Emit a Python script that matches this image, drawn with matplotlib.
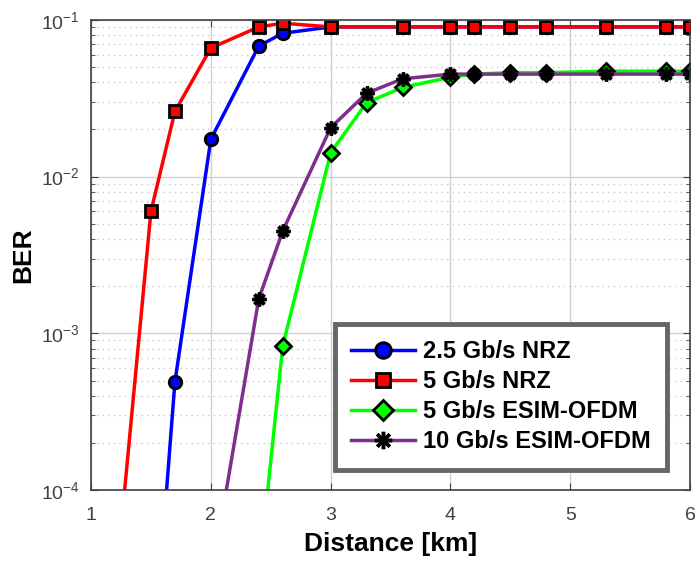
import numpy as np
import matplotlib
matplotlib.use("Agg")
import matplotlib.pyplot as plt
from matplotlib.ticker import LogLocator, NullFormatter

plt.rcParams['font.family'] = ['Liberation Sans', 'DejaVu Sans']

# data (first point of each series lies below the axis, no marker)
x_nrz25 = [1.60, 1.70, 2.0, 2.4, 2.6, 3.0, 3.6, 4.0, 4.2, 4.5, 4.8, 5.3, 5.8, 6.0]
y_nrz25 = [5e-5, 4.9e-4, 0.0173, 0.068, 0.082, 0.09, 0.09, 0.09, 0.09, 0.09, 0.09, 0.09, 0.09, 0.09]

x_nrz5 = [1.25, 1.5, 1.7, 2.0, 2.4, 2.6, 3.0, 3.6, 4.0, 4.2, 4.5, 4.8, 5.3, 5.8, 6.0]
y_nrz5 = [5.7e-5, 6e-3, 0.026, 0.066, 0.09, 0.095, 0.09, 0.09, 0.09, 0.09, 0.09, 0.09, 0.09, 0.09, 0.09]

x_ofdm5 = [2.45, 2.6, 3.0, 3.3, 3.6, 4.0, 4.2, 4.5, 4.8, 5.3, 5.8, 6.0]
y_ofdm5 = [6.6e-5, 8.3e-4, 0.0142, 0.0296, 0.037, 0.043, 0.045, 0.046, 0.046, 0.047, 0.047, 0.047]

x_ofdm10 = [2.10, 2.4, 2.6, 3.0, 3.3, 3.6, 4.0, 4.2, 4.5, 4.8, 5.3, 5.8, 6.0]
y_ofdm10 = [7.4e-5, 1.66e-3, 4.5e-3, 0.0205, 0.034, 0.042, 0.045, 0.045, 0.045, 0.045, 0.045, 0.045, 0.045]

labels = ['2.5 Gb/s NRZ', '5 Gb/s NRZ', '5 Gb/s ESIM-OFDM', '10 Gb/s ESIM-OFDM']

fig = plt.figure(figsize=(6.95, 5.64), dpi=100)
ax = fig.add_axes([0.131, 0.131, 0.862, 0.834])

ax.plot(x_nrz25, y_nrz25, color='#0000FF', lw=2.5, marker='o', ms=9,
        mfc='#0000FF', mec='black', mew=2, markevery=slice(1, None), label=labels[0])
ax.plot(x_nrz5, y_nrz5, color='#FF0000', lw=2.5, marker='s', ms=8,
        mfc='#FF0000', mec='black', mew=2, markevery=slice(1, None), label=labels[1])
ax.plot(x_ofdm5, y_ofdm5, color='#00FF00', lw=2.5, marker='D', ms=8,
        mfc='#00FF00', mec='black', mew=2, markevery=slice(1, None), label=labels[2])
ax.plot(x_ofdm10, y_ofdm10, color='#7E2F8E', lw=2.5, marker=(8, 2, 0), ms=10,
        mfc='black', mec='black', mew=2.5, markevery=slice(1, None), label=labels[3])

ax.set_yscale('log')
ax.set_xlim(1, 6)
ax.set_ylim(1e-4, 1e-1)
ax.set_xticks([1, 2, 3, 4, 5, 6])
ax.yaxis.set_major_locator(LogLocator(base=10, numticks=10))
ax.yaxis.set_minor_locator(LogLocator(base=10, subs=np.arange(2, 10), numticks=20))
ax.yaxis.set_minor_formatter(NullFormatter())

ax.grid(True, which='major', color='#d0d0d0', lw=1, ls='-')
ax.grid(True, which='minor', axis='y', color='#c8c8c8', lw=1, ls=(0, (1, 3)))

ax.tick_params(which='both', direction='in', top=True, right=True, colors='#404040',
               labelcolor='#404040', labelsize=14)
ax.tick_params(which='major', length=5)
ax.tick_params(which='minor', length=3)
ax.tick_params(axis='x', which='major', pad=12)
ax.tick_params(axis='y', which='major', pad=8)
for s in ax.spines.values():
    s.set_color('#404040')
    s.set_linewidth(1.2)

ax.set_xlabel('Distance [km]', fontsize=19, fontweight='bold', labelpad=6)
ax.set_ylabel('BER', fontsize=19, fontweight='bold', labelpad=4)

leg = ax.legend(loc='lower right', bbox_to_anchor=(0.962, 0.043), borderaxespad=0,
                prop={'weight': 'bold', 'size': 17}, handlelength=2.7, handletextpad=0.35,
                labelspacing=0.3, borderpad=0.7, markerscale=1.25,
                fancybox=False, framealpha=1)
leg.get_frame().set_edgecolor('#666666')
leg.get_frame().set_linewidth(3.5)

fig.savefig('out.png', dpi=100)
